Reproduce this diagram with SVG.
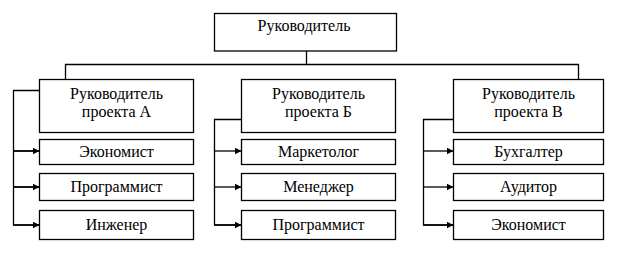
<svg xmlns="http://www.w3.org/2000/svg" width="623" height="255" viewBox="0 0 623 255">
<style>
rect{fill:#fff;stroke:#000;stroke-width:1.3}
text{font-family:"Liberation Serif","Times New Roman",serif;font-size:16px;fill:#000;text-anchor:middle}
.c path{fill:none;stroke:#000;stroke-width:1.3}
</style>
<defs>
<marker id="ar" markerWidth="7" markerHeight="7" refX="7" refY="3.5" orient="auto" markerUnits="userSpaceOnUse">
<path d="M0,0 L7,3.5 L0,7 Z" fill="#000"/>
</marker>
</defs>
<g class="c" id="connectors">
<path d="M306.5,51 V64.5 M65.5,79.5 V64.5 H578.5 V79.5"/>
<path d="M39.5,90.5 H13.5 V225 H39.5 M13.5,151 H39.5 M13.5,187 H39.5" />
<path d="M13.5,151 H39.5" marker-end="url(#ar)"/>
<path d="M13.5,187 H39.5" marker-end="url(#ar)"/>
<path d="M13.5,225 H39.5" marker-end="url(#ar)"/>
<path d="M241.5,119.5 H214.5 V225 H241.5"/>
<path d="M214.5,151 H241.5" marker-end="url(#ar)"/>
<path d="M214.5,187 H241.5" marker-end="url(#ar)"/>
<path d="M214.5,225 H241.5" marker-end="url(#ar)"/>
<path d="M453.5,119.5 H423.5 V225 H453.5"/>
<path d="M423.5,151 H453.5" marker-end="url(#ar)"/>
<path d="M423.5,187 H453.5" marker-end="url(#ar)"/>
<path d="M423.5,225 H453.5" marker-end="url(#ar)"/>
</g>
<g id="top"><rect x="214.5" y="13.5" width="182" height="37.5"/><text x="304" y="31">Руководитель</text></g>
<g id="pmA"><rect x="39.5" y="79.5" width="154" height="53"/><text x="116.5" y="99">Руководитель</text><text x="116.5" y="117">проекта А</text></g>
<g id="pmB"><rect x="241.5" y="79.5" width="154" height="53"/><text x="318.5" y="99">Руководитель</text><text x="318.5" y="117">проекта Б</text></g>
<g id="pmV"><rect x="453.5" y="79.5" width="150" height="53"/><text x="528.5" y="99">Руководитель</text><text x="528.5" y="117">проекта В</text></g>
<g id="a1"><rect x="39.5" y="139.5" width="154" height="25"/><text x="116.5" y="157">Экономист</text></g>
<g id="a2"><rect x="39.5" y="173.5" width="154" height="27"/><text x="116.5" y="191.5">Программист</text></g>
<g id="a3"><rect x="39.5" y="210.5" width="154" height="29"/><text x="116.5" y="229.5">Инженер</text></g>
<g id="b1"><rect x="241.5" y="139.5" width="154" height="25"/><text x="318.5" y="157">Маркетолог</text></g>
<g id="b2"><rect x="241.5" y="173.5" width="154" height="27"/><text x="318.5" y="191.5">Менеджер</text></g>
<g id="b3"><rect x="241.5" y="210.5" width="154" height="29"/><text x="318.5" y="229.5">Программист</text></g>
<g id="v1"><rect x="453.5" y="139.5" width="150" height="25"/><text x="528.5" y="157">Бухгалтер</text></g>
<g id="v2"><rect x="453.5" y="173.5" width="150" height="27"/><text x="528.5" y="191.5">Аудитор</text></g>
<g id="v3"><rect x="453.5" y="210.5" width="150" height="29"/><text x="528.5" y="229.5">Экономист</text></g>
</svg>
